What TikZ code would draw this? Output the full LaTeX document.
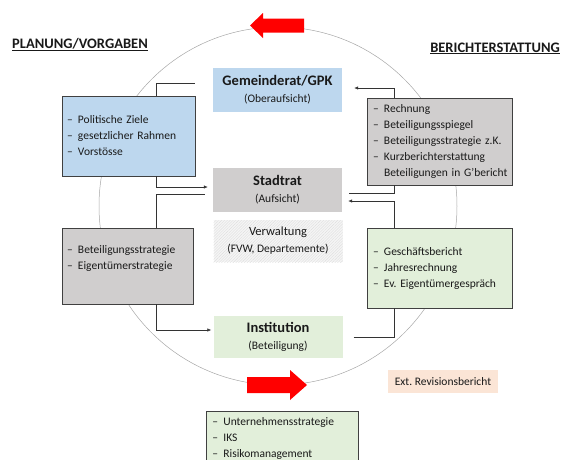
\documentclass[tikz,border=0pt]{standalone}
\usepackage{fontspec}
\setmainfont{Carlito}
\frenchspacing
\usetikzlibrary{arrows.meta,patterns.meta}
\definecolor{blaufill}{HTML}{BDD7EE}
\definecolor{graufill}{HTML}{D0CECE}
\definecolor{gruenfill}{HTML}{E2EFDA}
\definecolor{rosafill}{HTML}{FBE5D6}
\definecolor{rahmen}{HTML}{404040}
\definecolor{kreis}{HTML}{A6A6A6}
\definecolor{pfeilrot}{HTML}{FF0000}
\tikzstyle{every node}=[text=black!90,inner sep=0pt]
\tikzstyle{titel}=[font=\fontsize{14.5}{17}\selectfont\bfseries]
\tikzstyle{ebene}=[minimum width=129pt,minimum height=44pt,align=center,font=\fontsize{11.5}{17}\selectfont]
\tikzstyle{liste}=[draw=rahmen,line width=0.8pt,align=left,inner xsep=5pt,font=\fontsize{11.5}{16}\selectfont]
\tikzstyle{linie}=[draw=black!80,line width=0.6pt]
\tikzstyle{pfeil}=[linie,-{Latex[length=4pt,width=3.5pt]}]
\newcommand{\pkt}[1]{\mbox{\makebox[11pt][l]{–}#1}}

\begin{document}
\begin{tikzpicture}[x=1pt,y=-1pt]
\useasboundingbox (0,0) rectangle (563,459);
\draw[kreis,line width=0.5pt] (278,206) circle [radius=179pt];
\fill[pfeilrot] (304,18.5) -- (263,18.5) -- (263,13) -- (250,25.5) -- (263,38) -- (263,32.5) -- (304,32.5) -- cycle;
\fill[pfeilrot] (247,377) -- (290,377) -- (290,370) -- (307,385) -- (290,400) -- (290,393) -- (247,393) -- cycle;

\node[titel,anchor=base west] (planung) at (12,48) {\underline{PLANUNG/VORGABEN}};
\node[titel,anchor=base east] (bericht) at (560,52) {\underline{BERICHTERSTATTUNG}};

\node[ebene,fill=blaufill] (gemeinderat) at (277.5,90) {{\fontsize{14.5}{17}\selectfont\bfseries Gemeinderat/GPK}\\(Oberaufsicht)};
\node[ebene,fill=graufill] (stadtrat) at (277.5,190) {{\fontsize{14.5}{17}\selectfont\bfseries Stadtrat}\\(Aufsicht)};
\node[ebene,minimum height=42pt,fill=gray!8,postaction={pattern={Lines[angle=45,distance=2pt,line width=0.4pt]},pattern color=gray!25}] (verwaltung) at (278,241) {{\fontsize{12.5}{17}\selectfont Verwaltung}\\(FVW, Departemente)};
\node[ebene,minimum height=42pt,fill=gruenfill] (institution) at (278,337) {{\fontsize{14.5}{17}\selectfont\bfseries Institution}\\(Beteiligung)};
\node[ebene,minimum width=110pt,minimum height=23pt,fill=rosafill] (revision) at (443,381.5) {Ext. Revisionsbericht};

\node[liste,fill=blaufill,text width=123pt,minimum height=80pt] (politik) at (128.5,136) {\pkt{Politische Ziele}\\\pkt{gesetzlicher Rahmen}\\\pkt{Vorstösse}};
\node[liste,fill=graufill,text width=121pt,minimum height=76pt] (strategie) at (127.5,266) {\pkt{Beteiligungsstrategie}\\\pkt{Eigentümerstrategie}\\~};
\node[liste,fill=graufill,inner xsep=6pt,text width=133pt,minimum height=87pt] (rechnung) at (439.5,141.5) {\pkt{Rechnung}\\\pkt{Beteiligungsspiegel}\\\pkt{Beteiligungsstrategie z.K.}\\\pkt{Kurzberichterstattung}\\\mbox{\hspace*{11pt}Beteiligungen in G'bericht}};
\node[liste,fill=gruenfill,inner xsep=6pt,text width=133pt,minimum height=80pt] (geschaeft) at (439.5,268) {\pkt{Geschäftsbericht}\\\pkt{Jahresrechnung}\\\pkt{Ev. Eigentümergespräch}};
\node[liste,fill=gruenfill,anchor=north west,inner xsep=6pt,inner ysep=6pt,text width=140pt] (unternehmen) at (206,411) {\pkt{Unternehmensstrategie}\\\pkt{IKS}\\\pkt{Risikomanagement}};

\draw[linie] ([xshift=-18pt,yshift=7pt]gemeinderat.west) -| ([xshift=27.5pt]politik.north);
\draw[pfeil] ([xshift=27.5pt]politik.south) |- ([xshift=-5pt,yshift=3pt]stadtrat.west);
\draw[linie] ([xshift=-8pt,yshift=-4pt]stadtrat.west) -| ([xshift=28.5pt]strategie.north);
\draw[pfeil] ([xshift=28.5pt]strategie.south) |- ([xshift=-2pt,yshift=7pt]institution.west);
\draw[linie] ([xshift=11pt]institution.east) -| ([xshift=-45.5pt]geschaeft.south);
\draw[pfeil] ([xshift=-45.5pt]geschaeft.north) |- ([xshift=6pt,yshift=-11pt]stadtrat.east);
\draw[linie] ([xshift=7pt,yshift=-3pt]stadtrat.east) -| ([xshift=-45.5pt]rechnung.south);
\draw[pfeil] ([xshift=-45.5pt]rechnung.north) |- ([xshift=12pt,yshift=2pt]gemeinderat.east);
\end{tikzpicture}
\end{document}
